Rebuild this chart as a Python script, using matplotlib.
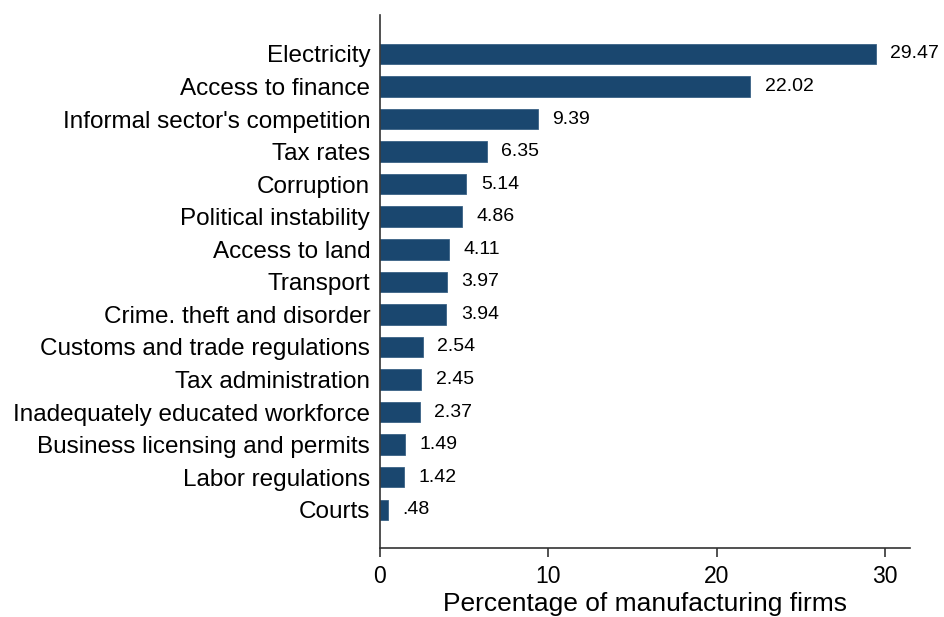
import matplotlib
matplotlib.use("Agg")
import matplotlib.pyplot as plt
import numpy as np

plt.rcParams['font.family'] = ['Liberation Sans', 'DejaVu Sans']

# obstacles, top to bottom as in the chart
categories = ["Electricity", "Access to finance", "Informal sector's competition",
              "Tax rates", "Corruption", "Political instability", "Access to land",
              "Transport", "Crime. theft and disorder", "Customs and trade regulations",
              "Tax administration", "Inadequately educated workforce",
              "Business licensing and permits", "Labor regulations", "Courts"]
values = [29.47, 22.02, 9.39, 6.35, 5.14, 4.86, 4.11, 3.97, 3.94, 2.54,
          2.45, 2.37, 1.49, 1.42, 0.48]
value_labels = ["29.47", "22.02", "9.39", "6.35", "5.14", "4.86", "4.11", "3.97",
                "3.94", "2.54", "2.45", "2.37", "1.49", "1.42", ".48"]
xticks = [0, 10, 20, 30]

bar_color = "#1a476f"
axis_color = "#333333"

fig = plt.figure(figsize=(9.44, 6.17), dpi=100)
ax = fig.add_axes([0.4025, 0.112, 0.5615, 0.864])

ypos = np.arange(len(categories))[::-1]
ax.barh(ypos, values, height=0.63, color=bar_color, edgecolor="#3a6286", linewidth=0.6)

# value labels at bar ends
for y, v, lab in zip(ypos, values, value_labels):
    ax.annotate(lab, xy=(v, y), xytext=(10.5, 0), textcoords="offset points",
                va="center", ha="left", fontsize=14)

ax.set_yticks(ypos)
ax.set_yticklabels(categories, fontsize=17.5)
ax.tick_params(axis="y", length=0, pad=7)

ax.set_xticks(xticks)
ax.set_xticklabels([str(t) for t in xticks], fontsize=16.5)
ax.tick_params(axis="x", length=6.5, width=1.2, pad=6, color=axis_color)
ax.set_xlim(0, 31.5)
ax.set_ylim(-1.17, len(categories) - 1 + 1.2)

ax.set_xlabel("Percentage of manufacturing firms", fontsize=19, labelpad=3)

for s in ["top", "right"]:
    ax.spines[s].set_visible(False)
for s in ["left", "bottom"]:
    ax.spines[s].set_linewidth(1.2)
    ax.spines[s].set_color(axis_color)

fig.savefig("out.png", dpi=100)
